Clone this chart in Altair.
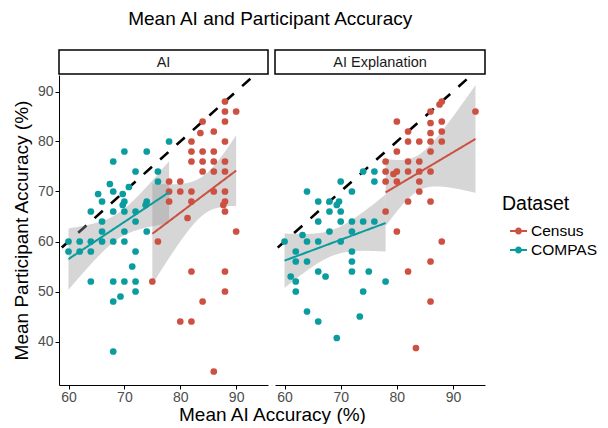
import altair as alt
import numpy as np
import pandas as pd

RED = "#CC5142"
TEAL = "#0A9C9E"
FONT = "Liberation Sans"

# ---- data ----
ai_census_x = [88, 88, 90, 88, 84, 83.6, 86, 82, 88, 82, 84, 86, 82, 84, 86, 88, 84, 86, 88, 78,
               80, 78, 80, 82, 86, 88, 78, 82, 88, 87.7, 88, 81.3, 90, 76, 82, 88, 75, 88, 84, 80, 82, 86]
ai_census_y = [88, 86, 86, 84, 84, 81.7, 82, 80, 80, 78, 78, 78, 76, 76, 76, 76, 74, 74, 74, 72,
               72, 70, 70, 70, 70, 70, 68, 68, 68, 67.3, 66, 64.7, 62, 60, 54, 54, 52, 50, 48, 44, 44, 34]
ai_compas_x = [78, 70, 74, 68, 72, 76, 76, 67.4, 68, 70.8, 69.7, 65.3, 66, 70, 69.7, 74, 73.8, 64, 68, 70,
               72, 66, 72, 66, 70, 74, 60, 62, 64, 66, 68, 70, 60, 62, 64, 72, 71.4, 64, 68, 70,
               72, 72, 69.3, 68, 68]
ai_compas_y = [80, 78, 78, 76, 74, 74, 72, 71.5, 70, 70.9, 69.5, 69.5, 68, 68, 67.3, 68, 67.3, 66, 66, 66,
               66, 64, 64, 62, 62, 62, 60, 60, 60, 60, 60, 60, 58, 58, 58, 58, 55, 52, 52, 52,
               52, 50, 49, 48, 38]
ex_census_x = [88, 87.6, 86, 94, 80, 86, 88, 82, 86, 88, 82, 84, 86, 88, 80, 86, 78, 82, 84, 78,
               80, 79.4, 82, 84, 86, 78, 80, 84, 84, 82, 86, 78, 80, 88, 86, 82, 86, 83.4]
ex_census_y = [88, 87.4, 86, 86, 84, 83.7, 84, 82, 81.7, 82, 80, 80, 80, 80, 78, 78, 76, 76, 76, 74,
               74, 73.5, 74, 74, 74, 72, 72, 72, 70, 68, 68, 66, 62, 60, 56, 54, 48, 38.7]
ex_compas_x = [74, 76, 76, 70, 72, 64, 66, 68, 69.7, 69.3, 68, 70, 66, 70, 72, 74, 76, 68, 72, 63.2,
               60, 64, 66, 70, 62, 72, 62, 64, 72, 61.1, 62, 66, 67.3, 72, 75, 62, 74, 78, 64, 66,
               73.4, 69.3]
ex_compas_y = [74, 74, 72, 72, 70, 70, 68, 68, 68, 67.3, 66, 66, 64, 64, 64, 64, 64, 62, 62, 61.3,
               60, 60, 60, 60, 58, 58, 56, 56, 56, 53, 52, 54, 53, 54, 54, 50, 50, 52, 46, 44,
               45, 40.7]

panels = ["AI", "AI Explanation"]
datasets = ["Census", "COMPAS"]
x_ticks = [60, 70, 80, 90]
y_ticks = [40, 50, 60, 70, 80, 90]
diag = [50, 100]

X_DOM = [58.3, 95.7]
Y_DOM = [31.3, 93.3]
W1, W2, H = 209, 210, 310


def t975(df):
    z = 1.959964
    return (z + (z**3 + z) / (4 * df) + (5 * z**5 + 16 * z**3 + 3 * z) / (96 * df**2)
            + (3 * z**7 + 19 * z**5 + 17 * z**3 - 15 * z) / (384 * df**3))


def lm_band(xs, ys, name, n=80):
    xs = np.asarray(xs, float)
    ys = np.asarray(ys, float)
    b, a = np.polyfit(xs, ys, 1)
    grid = np.linspace(xs.min(), xs.max(), n)
    fit = a + b * grid
    dof = len(xs) - 2
    s = np.sqrt(((ys - (a + b * xs)) ** 2).sum() / dof)
    sxx = ((xs - xs.mean()) ** 2).sum()
    se = s * np.sqrt(1 / len(xs) + (grid - xs.mean()) ** 2 / sxx)
    t = t975(dof)
    return pd.DataFrame({"x": grid, "fit": fit, "lo": fit - t * se, "hi": fit + t * se, "Dataset": name})


def points(cx, cy, px, py):
    return pd.concat([
        pd.DataFrame({"x": cx, "y": cy, "Dataset": "Census"}),
        pd.DataFrame({"x": px, "y": py, "Dataset": "COMPAS"}),
    ], ignore_index=True)


color_scale = alt.Scale(domain=datasets, range=[RED, TEAL])
SYMBOL = ("M -1 -0.12 L 1 -0.12 L 1 0.12 L -1 0.12 Z "
          "M 0.41 0 A 0.41 0.41 0 1 1 -0.41 0 A 0.41 0.41 0 1 1 0.41 0 Z")
legend = alt.Legend(
    title="Dataset", orient="none", legendX=443, legendY=120,
    symbolType=SYMBOL, symbolSize=289, symbolOpacity=1, symbolStrokeWidth=0, symbolOffset=8,
    labelFontSize=15.5, titleFontSize=19.5,
    titleFontWeight="normal", labelColor="black", titleColor="black",
    titlePadding=8, rowPadding=2, labelOffset=4, labelFont=FONT, titleFont=FONT,
)


def panel(name, pts, bands, width, first):
    xs = alt.Scale(domain=X_DOM, nice=False, zero=False)
    ys = alt.Scale(domain=Y_DOM, nice=False, zero=False)
    xaxis_kw = dict(values=x_ticks, tickSize=4, labelPadding=1, labelFontSize=14,
                    labelColor="#4d4d4d", domainColor="black", tickColor="black", grid=False)
    if first:
        xaxis_kw.update(title="Mean AI Accuracy (%)", titleX=213, titleAlign="center",
                        titlePadding=1, titleFontSize=19, titleFontWeight="normal",
                        titleColor="black")
        yaxis = alt.Axis(
            values=y_ticks, tickSize=4, labelPadding=2, labelFontSize=14,
            labelColor="#4d4d4d", domainColor="black", tickColor="black", grid=False,
            title="Mean Participant Accuracy (%)", titlePadding=6, titleFontSize=19,
            titleFontWeight="normal", titleColor="black")

        def yq(field):
            return alt.Y(field, scale=ys, axis=yaxis)
    else:
        xaxis_kw.update(title="")

        def yq(field):
            return alt.Y(field, scale=ys, axis=None)
    xenc = alt.X("x:Q", scale=xs, axis=alt.Axis(**xaxis_kw))

    band = alt.Chart(bands).mark_area(color="#999999", opacity=0.4, clip=True).encode(
        x=xenc, y=yq("lo:Q"), y2="hi:Q", detail="Dataset:N",
    )
    ab = alt.Chart(pd.DataFrame({"x": diag, "y": diag})).mark_line(
        color="black", strokeDash=[11, 11], strokeWidth=2.6, clip=True).encode(x=xenc, y=yq("y:Q"))
    pt = alt.Chart(pts).mark_circle(size=45, opacity=1).encode(
        x=xenc, y=yq("y:Q"),
        color=alt.Color("Dataset:N", scale=color_scale, legend=legend),
    )
    ln = alt.Chart(bands).mark_line(strokeWidth=2).encode(
        x=xenc, y=yq("fit:Q"),
        color=alt.Color("Dataset:N", scale=color_scale, legend=legend),
    )
    strip_df = pd.DataFrame({"panel": [name]})
    sbox = alt.Chart(strip_df).mark_rect(fill="white", stroke="black", strokeWidth=1.5).encode(
        x=alt.value(0), x2=alt.value(width), y=alt.value(-25), y2=alt.value(-1))
    stxt = alt.Chart(strip_df).mark_text(fontSize=14.5, color="#1a1a1a", font=FONT).encode(
        text="panel:N", x=alt.value(width / 2), y=alt.value(-12.5))
    return alt.layer(ab, band, pt, ln, sbox, stxt).properties(width=width, height=H)


p1 = panel("AI",
           points(ai_census_x, ai_census_y, ai_compas_x, ai_compas_y),
           pd.concat([lm_band(ai_census_x, ai_census_y, "Census"),
                      lm_band(ai_compas_x, ai_compas_y, "COMPAS")], ignore_index=True),
           W1, True)
p2 = panel("AI Explanation",
           points(ex_census_x, ex_census_y, ex_compas_x, ex_compas_y),
           pd.concat([lm_band(ex_census_x, ex_census_y, "Census"),
                      lm_band(ex_compas_x, ex_compas_y, "COMPAS")], ignore_index=True),
           W2, False)

chart = alt.hconcat(p1, p2, spacing=7, bounds="flush").properties(
    title=alt.Title("Mean AI and Participant Accuracy", fontSize=19, fontWeight="normal",
                    color="black", font=FONT, anchor="middle", frame="bounds", offset=20, dx=-35),
    padding={"left": 12, "top": 10, "right": 5, "bottom": 0},
).configure(font=FONT, background="white").configure_view(strokeWidth=0)

chart.save("out.html", embed_options={"renderer": "svg", "actions": False})
